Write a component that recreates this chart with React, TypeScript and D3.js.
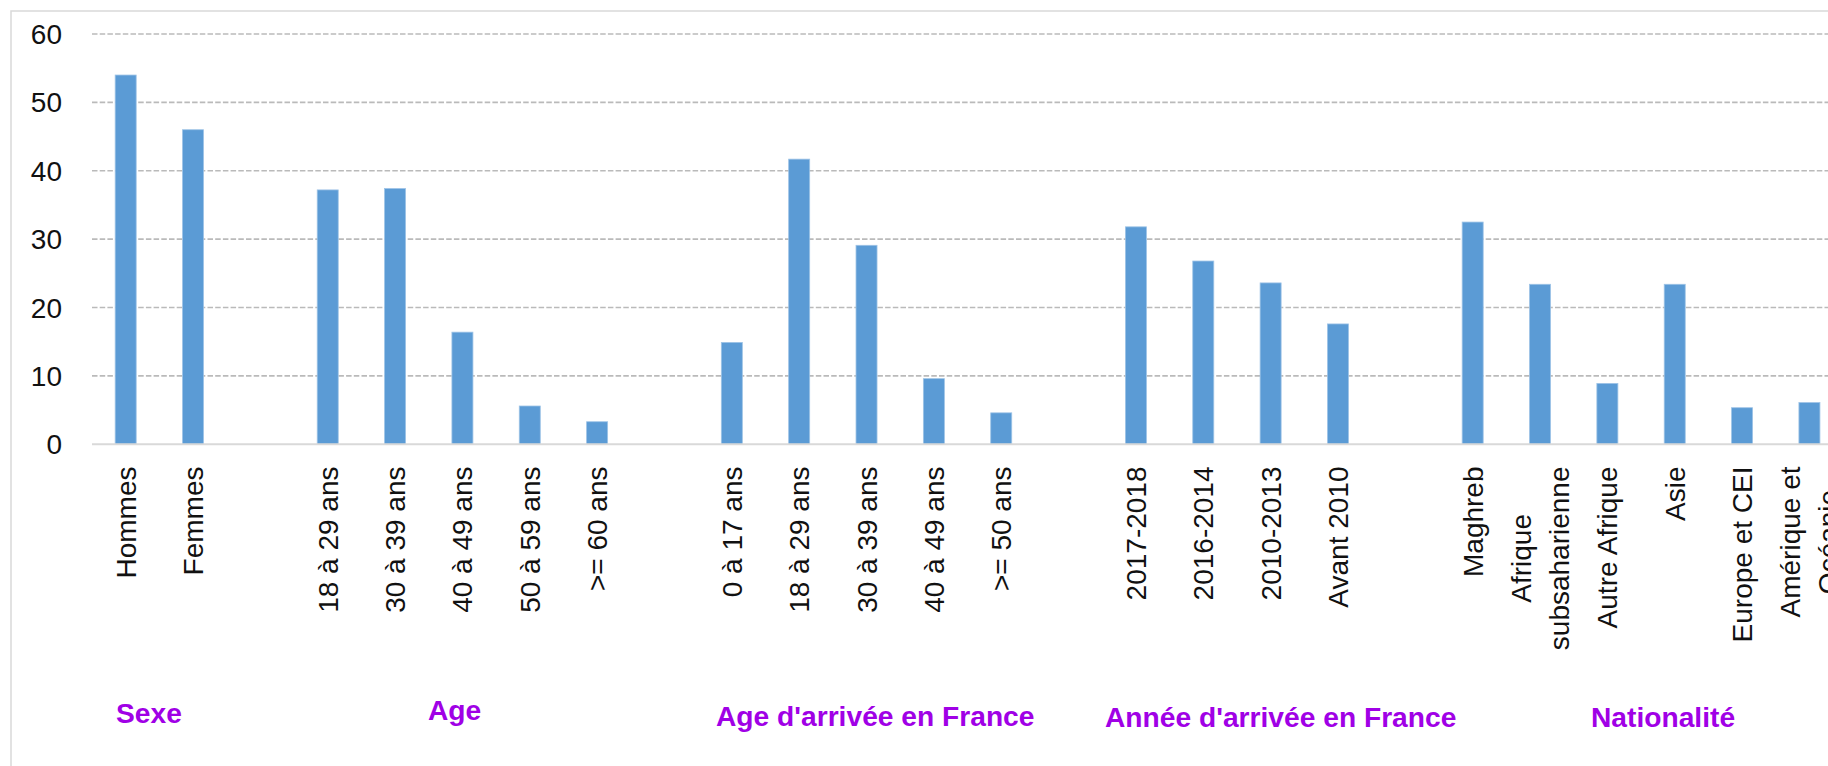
import React, { useEffect, useRef } from "react";
import * as d3 from "d3";

// ---- Data ----
const groupTitles = ["Sexe", "Age", "Age d'arrivée en France", "Année d'arrivée en France", "Nationalité"];

const sexeLabels = ["Hommes", "Femmes"];
const sexeValues = [54, 46];

const ageLabels = ["18 à 29 ans", "30 à 39 ans", "40 à 49 ans", "50 à 59 ans", ">= 60 ans"];
const ageValues = [37.2, 37.4, 16.4, 5.6, 3.3];

const arriveeAgeLabels = ["0 à 17 ans", "18 à 29 ans", "30 à 39 ans", "40 à 49 ans", ">= 50 ans"];
const arriveeAgeValues = [14.9, 41.7, 29.1, 9.6, 4.6];

const anneeLabels = ["2017-2018", "2016-2014", "2010-2013", "Avant 2010"];
const anneeValues = [31.8, 26.8, 23.6, 17.6];

const nationaliteLabels = ["Maghreb", "Afrique\nsubsaharienne", "Autre Afrique", "Asie", "Europe et CEI", "Amérique et\nOcéanie"];
const nationaliteValues = [32.5, 23.4, 8.9, 23.4, 5.35, 6.1];

const yTicks = [0, 10, 20, 30, 40, 50, 60];

// ---- Layout (not data) ----
const W = 1828;
const H = 766;
const plotLeft = 92;
const slotW = 67.35;
const yTop = 34;
const yBase = 444.3;
const titleLayout = [
  { x: 116, y: 723 },
  { x: 428, y: 720 },
  { x: 716, y: 726 },
  { x: 1105, y: 727 },
  { x: 1591, y: 727 },
];

type Slot = { key: string; label: string; value: number | null };

function buildSlots(): Slot[] {
  const groups: [string[], number[]][] = [
    [sexeLabels, sexeValues],
    [ageLabels, ageValues],
    [arriveeAgeLabels, arriveeAgeValues],
    [anneeLabels, anneeValues],
    [nationaliteLabels, nationaliteValues],
  ];
  const slots: Slot[] = [];
  groups.forEach(([labels, values], gi) => {
    if (gi > 0) slots.push({ key: `gap${gi}`, label: "", value: null });
    labels.forEach((l, i) => slots.push({ key: `g${gi}-${i}`, label: l, value: values[i] }));
  });
  return slots;
}

export default function App() {
  const ref = useRef<SVGSVGElement | null>(null);

  useEffect(() => {
    const svg = d3.select(ref.current);
    svg.selectAll("*").remove();
    const slots = buildSlots();

    const x = d3
      .scaleBand<string>()
      .domain(slots.map((s) => s.key))
      .range([plotLeft, plotLeft + slotW * slots.length])
      .paddingInner(0)
      .paddingOuter(0);
    const y = d3.scaleLinear().domain([0, 60]).range([yBase, yTop]);
    const barW = x.bandwidth() * 0.312;

    // chart border
    svg
      .append("path")
      .attr("d", `M11,${H + 5} L11,11 L${W + 5},11`)
      .attr("fill", "none")
      .attr("stroke", "#D9D9D9")
      .attr("stroke-width", 1.5);

    // gridlines
    svg
      .append("g")
      .selectAll("line")
      .data(yTicks.filter((t) => t > 0))
      .join("line")
      .attr("x1", plotLeft)
      .attr("x2", W)
      .attr("y1", (d) => y(d))
      .attr("y2", (d) => y(d))
      .attr("stroke", "#BABABA")
      .attr("stroke-width", 1.6)
      .attr("stroke-dasharray", "5.5,2.2");

    // y tick labels
    svg
      .append("g")
      .selectAll("text")
      .data(yTicks)
      .join("text")
      .attr("x", 62)
      .attr("y", (d) => y(d))
      .attr("dy", "0.36em")
      .attr("text-anchor", "end")
      .attr("font-family", "'Liberation Sans', Arial, sans-serif")
      .attr("font-size", 28)
      .attr("fill", "#111")
      .text((d) => String(d));

    // bars
    svg
      .append("g")
      .selectAll("rect")
      .data(slots.filter((s) => s.value !== null))
      .join("rect")
      .attr("x", (d) => (x(d.key) as number) + x.bandwidth() / 2 - barW / 2)
      .attr("y", (d) => y(d.value as number))
      .attr("width", barW)
      .attr("height", (d) => yBase - y(d.value as number))
      .attr("fill", "#5B9BD5")
      .attr("stroke", "#9DC3E6")
      .attr("stroke-width", 0.8);

    // baseline
    svg
      .append("line")
      .attr("x1", plotLeft)
      .attr("x2", W)
      .attr("y1", yBase)
      .attr("y2", yBase)
      .attr("stroke", "#D9D9D9")
      .attr("stroke-width", 2);

    // category labels (rotated)
    const labelTop = 466.5;
    const lineH = 38;
    const lg = svg.append("g");
    slots
      .filter((s) => s.label)
      .forEach((s) => {
        const lines = s.label.split("\n");
        const cx = (x(s.key) as number) + x.bandwidth() / 2;
        const t = lg
          .append("text")
          .attr("font-family", "'Liberation Sans', Arial, sans-serif")
          .attr("font-size", 28)
          .attr("fill", "#111")
          .attr("text-anchor", "middle");
        const n = lines.length;
        const tspans = lines.map((ln, i) =>
          t
            .append("tspan")
            .attr("x", 0)
            .attr("y", (i - (n - 1) / 2) * lineH + 10)
            .text(ln)
        );
        let maxLen = 0;
        tspans.forEach((ts) => {
          const node = ts.node() as SVGTextContentElement;
          maxLen = Math.max(maxLen, node.getComputedTextLength());
        });
        t.attr("transform", `translate(${cx},${labelTop + maxLen / 2}) rotate(-90)`);
      });

    // group titles
    svg
      .append("g")
      .selectAll("text")
      .data(groupTitles)
      .join("text")
      .attr("x", (_, i) => titleLayout[i].x)
      .attr("y", (_, i) => titleLayout[i].y)
      .attr("font-family", "'Liberation Sans', Arial, sans-serif")
      .attr("font-weight", "bold")
      .attr("font-size", 28.2)
      .attr("fill", "#A000E6")
      .text((d) => d);
  }, []);

  return (
    <svg
      ref={ref}
      width={W}
      height={H}
      style={{ position: "absolute", left: 0, top: 0, background: "#fff", display: "block" }}
    />
  );
}
